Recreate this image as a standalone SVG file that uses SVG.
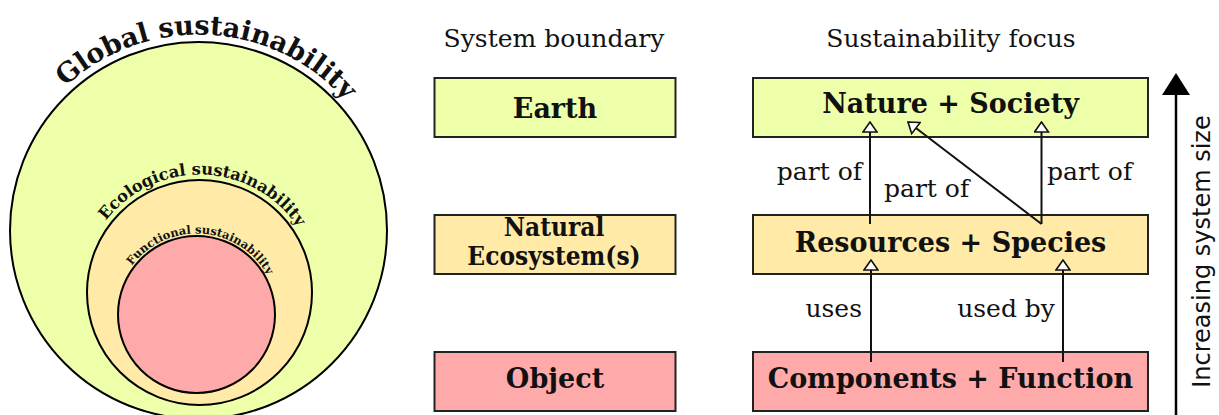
<svg xmlns="http://www.w3.org/2000/svg" width="1219" height="415" viewBox="0 0 1219 415">
<style>
.lbl{font-family:"DejaVu Serif",serif;font-size:25px;fill:#111}
.bold{font-family:"DejaVu Serif",serif;font-weight:bold;fill:#111}
.cond{font-family:"DejaVu Serif Condensed","DejaVu Serif",serif;font-stretch:condensed;font-weight:bold;fill:#111}
.box{stroke:#222;stroke-width:2}
.circ{stroke:#000;stroke-width:2}
.g{fill:#eeffaa}.y{fill:#ffeaa8}.p{fill:#ffaaaa}
.conn{stroke:#111;stroke-width:2;fill:none}
</style>
<defs>
<marker id="hollow" markerUnits="userSpaceOnUse" viewBox="0 0 12 16" markerWidth="12" markerHeight="16" refX="11" refY="8" orient="auto">
<path d="M1,1 L11,8 L1,15 Z" fill="#fff" stroke="#111" stroke-width="1.6"/>
</marker>
<path id="arcG" d="M2.5,230.5 A196,196 0 0 1 394.5,230.5"/>
<path id="arcE" d="M81.5,292.5 A118,118 0 0 1 317.5,292.5"/>
<path id="arcF" d="M115.5,314.5 A81,81 0 0 1 277.5,314.5"/>
</defs>
<rect width="1219" height="415" fill="#fff"/>

<g id="global">
<circle class="circ g" cx="198.5" cy="230.5" r="188.5"/>
<text class="bold" font-size="27"><textPath href="#arcG" startOffset="51.6%" text-anchor="middle">Global sustainability</textPath></text>
</g>
<g id="ecological">
<circle class="circ y" cx="199.5" cy="292.5" r="112.5"/>
<text class="bold" font-size="16.3"><textPath href="#arcE" startOffset="51.1%" text-anchor="middle">Ecological sustainability</textPath></text>
</g>
<g id="functional">
<circle class="circ p" cx="196.5" cy="314.5" r="78.5"/>
<text class="bold" font-size="11.5"><textPath href="#arcF" startOffset="52.2%" text-anchor="middle">Functional sustainability</textPath></text>
</g>

<text class="lbl" x="554" y="47" text-anchor="middle">System boundary</text>
<text class="lbl" x="951" y="47" text-anchor="middle">Sustainability focus</text>

<g id="earth">
<rect class="box g" x="434.5" y="78" width="241" height="59"/>
<text class="bold" font-size="27" x="555" y="118" text-anchor="middle">Earth</text>
</g>
<g id="natural">
<rect class="box y" x="434.5" y="215" width="241" height="59"/>
<text class="cond" font-size="26" x="554" y="236" text-anchor="middle">Natural</text>
<text class="cond" font-size="26" x="554" y="264.5" text-anchor="middle">Ecosystem(s)</text>
</g>
<g id="object">
<rect class="box p" x="434.5" y="352" width="241" height="59"/>
<text class="bold" font-size="27" x="555" y="388" text-anchor="middle">Object</text>
</g>

<g id="nature-society">
<rect class="box g" x="753" y="78" width="395" height="59"/>
<text class="bold" font-size="27" x="950.5" y="113" text-anchor="middle">Nature + Society</text>
</g>
<g id="resources-species">
<rect class="box y" x="753" y="215" width="395" height="59"/>
<text class="bold" font-size="27" x="950.5" y="252" text-anchor="middle">Resources + Species</text>
</g>
<g id="components-function">
<rect class="box p" x="753" y="352" width="395" height="59"/>
<text class="bold" font-size="27" x="950.5" y="388" text-anchor="middle">Components + Function</text>
</g>

<g id="connectors">
<line class="conn" x1="870" y1="224" x2="870" y2="122" marker-end="url(#hollow)"/>
<line class="conn" x1="1041.5" y1="224" x2="1041.5" y2="122" marker-end="url(#hollow)"/>
<line class="conn" x1="1041.5" y1="224" x2="908" y2="122" marker-end="url(#hollow)"/>
<line class="conn" x1="871" y1="362" x2="871" y2="260" marker-end="url(#hollow)"/>
<line class="conn" x1="1063" y1="362" x2="1063" y2="260" marker-end="url(#hollow)"/>
<text class="lbl" x="862" y="180" text-anchor="end">part of</text>
<text class="lbl" x="884" y="197">part of</text>
<text class="lbl" x="1047" y="180">part of</text>
<text class="lbl" x="862" y="317" text-anchor="end">uses</text>
<text class="lbl" x="1055" y="317" text-anchor="end">used by</text>
</g>

<g id="size-axis">
<line x1="1176" y1="94" x2="1176" y2="416" stroke="#000" stroke-width="2.5"/>
<path d="M1176,73 L1190,95 L1162,95 Z" fill="#000"/>
<text x="0" y="0" transform="translate(1210,251.5) rotate(-90)" text-anchor="middle" font-family="DejaVu Sans,sans-serif" font-size="24" fill="#111">Increasing system size</text>
</g>
</svg>
